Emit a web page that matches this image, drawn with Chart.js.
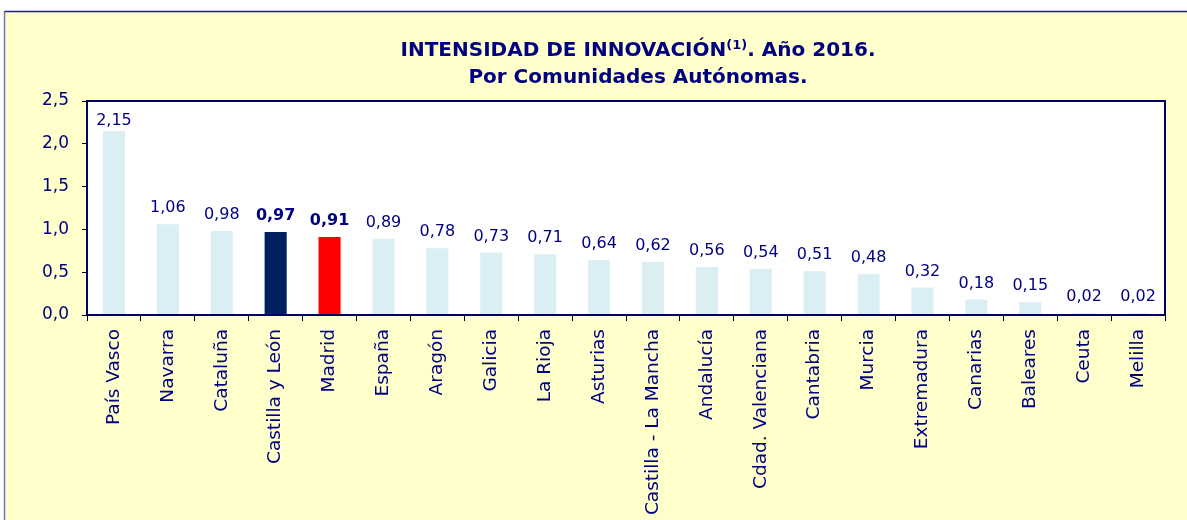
<!DOCTYPE html>
<html>
<head>
<meta charset="utf-8">
<script src="https://cdn.jsdelivr.net/npm/chart.js@4.4.0/dist/chart.umd.min.js"></script>
<style>
  body { margin: 0; background: #fff; }
  #caja { width: 1187px; height: 520px; position: relative; }
</style>
</head>
<body>
<div id="caja"><canvas id="grafBarras"></canvas></div>
<script>
// Datos
const comunidades = [
  'País Vasco', 'Navarra', 'Cataluña', 'Castilla y León', 'Madrid', 'España',
  'Aragón', 'Galicia', 'La Rioja', 'Asturias', 'Castilla - La Mancha', 'Andalucía',
  'Cdad. Valenciana', 'Cantabria', 'Murcia', 'Extremadura', 'Canarias', 'Baleares',
  'Ceuta', 'Melilla'
];
const intensidad = [2.15, 1.06, 0.98, 0.97, 0.91, 0.89, 0.78, 0.73, 0.71, 0.64,
  0.62, 0.56, 0.54, 0.51, 0.48, 0.32, 0.18, 0.15, 0.02, 0.02];
const ejeY = [0, 0.5, 1.0, 1.5, 2.0, 2.5];

// Estilos
const azul = '#000080';
const fuente = '"DejaVu Sans", sans-serif';
const destacados = { 'Castilla y León': '#002060', 'Madrid': '#FF0000' };
const colores = comunidades.map(c => destacados[c] || '#DAEEF3');
const fmt = v => v.toFixed(2).replace('.', ',');

// Fondo amarillo, marco, etiquetas y titulo
const fondo = {
  id: 'fondo',
  beforeDraw(chart) {
    const c = chart.ctx;
    c.save();
    c.fillStyle = '#fff';
    c.fillRect(0, 0, chart.width, chart.height);
    c.fillStyle = '#FFFFCC';
    c.fillRect(4, 11, chart.width - 4, chart.height - 11);
    c.lineWidth = 1.5;
    c.strokeStyle = '#7878B8';
    c.beginPath();
    c.moveTo(4.5, chart.height);
    c.lineTo(4.5, 11.5);
    c.stroke();
    c.strokeStyle = '#202088';
    c.beginPath();
    c.moveTo(4.5, 11.5);
    c.lineTo(chart.width, 11.5);
    c.stroke();
    // area blanca del grafico
    const a = chart.chartArea;
    c.fillStyle = '#fff';
    c.fillRect(a.left, a.top, a.right - a.left, a.bottom - a.top);
    c.restore();
  },
  afterDatasetsDraw(chart) {
    const c = chart.ctx;
    const a = chart.chartArea;
    c.save();
    // borde del area de trazado
    c.strokeStyle = '#000066';
    c.lineWidth = 2;
    c.strokeRect(a.left, a.top, a.right - a.left, a.bottom - a.top);

    // etiquetas de valor
    const meta = chart.getDatasetMeta(0);
    c.fillStyle = azul;
    c.textAlign = 'center';
    c.textBaseline = 'alphabetic';
    meta.data.forEach((bar, i) => {
      const negrita = destacados[comunidades[i]] ? 'bold ' : '';
      c.font = negrita + '16px ' + fuente;
      const y = Math.max(bar.y - 12, a.top + 24);
      c.fillText(fmt(intensidad[i]), bar.x, y);
    });

    // titulo
    const cx = 638;
    const f1 = 'bold 20px ' + fuente;
    const fs = 'bold 13px ' + fuente;
    const p1 = 'INTENSIDAD DE INNOVACIÓN', sup = '(1)', p2 = '. Año 2016.';
    c.font = f1;
    const w1 = c.measureText(p1).width, w2 = c.measureText(p2).width;
    c.font = fs;
    const ws = c.measureText(sup).width;
    let x = cx - (w1 + ws + w2) / 2;
    c.textAlign = 'left';
    c.font = f1;
    c.fillText(p1, x, 56);
    x += w1;
    c.font = fs;
    c.fillText(sup, x, 49);
    x += ws;
    c.font = f1;
    c.fillText(p2, x, 56);
    c.textAlign = 'center';
    c.fillText('Por Comunidades Autónomas.', cx, 83);
    c.restore();
  }
};

const ctx = document.getElementById('grafBarras').getContext('2d');

const grafico = new Chart(ctx, {
  type: 'bar',
  data: {
    labels: comunidades,
    datasets: [{
      data: intensidad,
      backgroundColor: colores,
      borderWidth: 0,
      categoryPercentage: 1,
      barPercentage: 0.41
    }]
  },
  options: {
    responsive: true,
    maintainAspectRatio: false,
    animation: false,
    layout: { padding: { top: 101, right: 22, left: 0, bottom: 0 } },
    plugins: {
      legend: { display: false },
      tooltip: { enabled: false },
      title: { display: false }
    },
    scales: {
      x: {
        border: { display: false },
        grid: { offset: true, drawOnChartArea: false, drawTicks: true, tickLength: 6, tickColor: '#000' },
        ticks: {
          autoSkip: false,
          minRotation: 90,
          maxRotation: 90,
          padding: 8,
          color: azul,
          font: { family: fuente, size: 18.5 }
        },
        afterFit(scale) { scale.height = 205; }
      },
      y: {
        min: 0,
        max: 2.5,
        border: { display: false },
        grid: { drawOnChartArea: false, drawTicks: true, tickLength: 5, tickColor: '#000' },
        afterBuildTicks(scale) { scale.ticks = ejeY.map(v => ({ value: v })); },
        ticks: {
          padding: 13,
          color: azul,
          font: { family: fuente, size: 17 },
          callback: v => v.toFixed(1).replace('.', ',')
        },
        afterFit(scale) { scale.width = 87; }
      }
    }
  },
  plugins: [fondo]
});
</script>
</body>
</html>
